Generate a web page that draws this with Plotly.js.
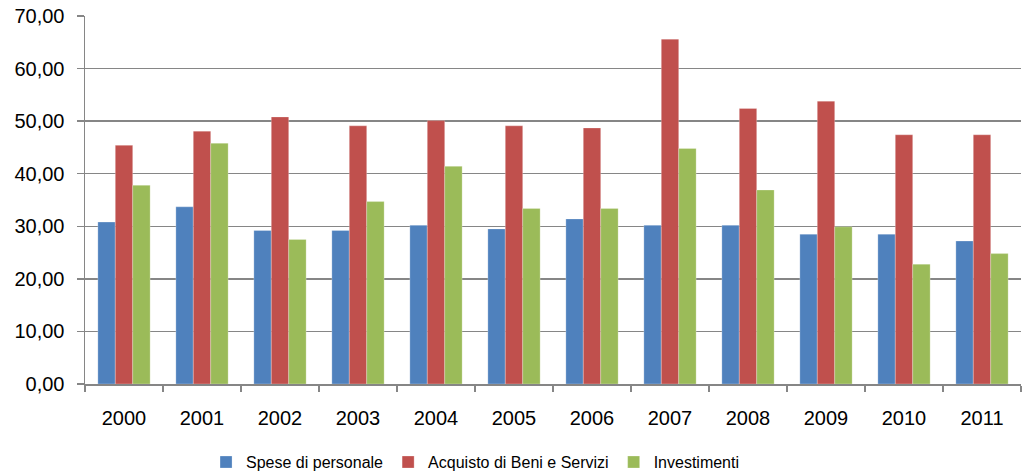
<!DOCTYPE html>
<html>
<head>
<meta charset="utf-8">
<script src="https://cdn.plot.ly/plotly-3.0.1.min.js"></script>
<style>html,body{margin:0;padding:0;background:#fff;}#chart{width:1022px;height:473px;}</style>
</head>
<body>
<div id="chart"></div>
<script>
var years = ["2000","2001","2002","2003","2004","2005","2006","2007","2008","2009","2010","2011"];
var spesePersonale = [30.8, 33.7, 29.2, 29.2, 30.2, 29.5, 31.4, 30.2, 30.2, 28.5, 28.5, 27.2];
var acquistoBeni = [45.4, 48.1, 50.8, 49.1, 50.1, 49.1, 48.7, 65.6, 52.4, 53.8, 47.4, 47.4];
var investimenti = [37.8, 45.8, 27.5, 34.7, 41.4, 33.4, 33.4, 44.8, 36.9, 29.9, 22.8, 24.8];
var seriesNames = ["Spese di personale", "Acquisto di Beni e Servizi", "Investimenti"];
var seriesColors = ["#4F81BD", "#C0504D", "#9BBB59"];
var yTickVals = [0,10,20,30,40,50,60,70];
var yTickText = ["0,00","10,00","20,00","30,00","40,00","50,00","60,00","70,00"];

var values = [spesePersonale, acquistoBeni, investimenti];
var traces = values.map(function(v, i){
  return {type:"bar", x: years, y: v, name: seriesNames[i],
    marker:{color: seriesColors[i], line:{color:"rgba(255,255,255,0.5)", width:0.5}},
    hoverinfo:"x+y"};
});

var layout = {
  width:1022, height:473,
  margin:{l:85, r:1, t:16, b:89, autoexpand:false},
  paper_bgcolor:"#fff", plot_bgcolor:"#fff",
  font:{family:"Liberation Sans, Arial, sans-serif", color:"#000", size:20},
  barmode:"group", bargap:0.33, bargroupgap:0,
  showlegend:true,
  legend:{orientation:"h", xref:"container", x:0.2016, xanchor:"left", yref:"container", y:0.023, yanchor:"middle",
    font:{size:16, family:"Liberation Sans, Arial, sans-serif"}, itemwidth:30, traceorder:"normal"},
  xaxis:{type:"category", showline:true, linecolor:"#868686", linewidth:1.5,
    ticks:"outside", ticklen:6, tickcolor:"#868686", tickwidth:1.5, tickson:"boundaries",
    showgrid:false, tickfont:{size:20}, zeroline:false, ticklabelstandoff:15},
  yaxis:{range:[0,70], tickvals:yTickVals, ticktext:yTickText, showline:true, linecolor:"#868686", linewidth:1.5,
    ticks:"outside", ticklen:7, tickcolor:"#868686", tickwidth:1.5,
    showgrid:true, gridcolor:"#868686", gridwidth:1.5, zeroline:false, tickfont:{size:20}, ticklabelstandoff:8}
};
Plotly.newPlot("chart", traces, layout, {displayModeBar:false, staticPlot:true});
</script>
</body>
</html>
